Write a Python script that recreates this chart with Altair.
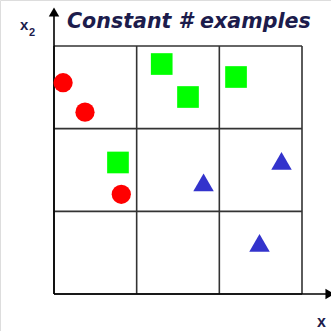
import altair as alt
import pandas as pd

# Sample points in feature space (x1, x2), each cell of the 3x3 partition
red_x = [0.11, 0.375, 0.814]
red_y = [2.556, 2.20, 1.206]
green_x = [1.303, 1.621, 2.202, 0.774]
green_y = [2.782, 2.383, 2.625, 1.591]
blue_x = [1.809, 2.752, 2.486]
blue_y = [1.349, 1.609, 0.617]

# Partition boundaries along each axis
cuts = [0, 1, 2, 3]

X_DOM = [-0.6532, 3.3508]
Y_DOM = [-0.4476, 3.5565]

xs = alt.Scale(domain=X_DOM, nice=False, zero=False)
ys = alt.Scale(domain=Y_DOM, nice=False, zero=False)

red = pd.DataFrame({"x1": red_x, "x2": red_y})
green = pd.DataFrame({"x1": green_x, "x2": green_y})
blue = pd.DataFrame({"x1": blue_x, "x2": blue_y})
grid = pd.DataFrame({"c": cuts, "lo": 0, "hi": 3})

vlines = alt.Chart(grid).mark_rule(color="#333333", strokeWidth=1.6).encode(
    x=alt.X("c:Q", scale=xs, axis=None),
    y=alt.Y("lo:Q", scale=ys, axis=None),
    y2="hi:Q",
)
hlines = alt.Chart(grid).mark_rule(color="#333333", strokeWidth=1.6).encode(
    y=alt.Y("c:Q", scale=ys, axis=None),
    x=alt.X("lo:Q", scale=xs, axis=None),
    x2="hi:Q",
)

# Coordinate axes with arrow heads
axes_df = pd.DataFrame({"o": [0]})
yaxis = alt.Chart(axes_df).mark_rule(color="black", strokeWidth=1.6).encode(
    x=alt.X("o:Q", scale=xs, axis=None),
    y=alt.Y("o:Q", scale=ys, axis=None),
    y2=alt.value(14),
)
xaxis = alt.Chart(axes_df).mark_rule(color="black", strokeWidth=1.6).encode(
    y=alt.Y("o:Q", scale=ys, axis=None),
    x=alt.X("o:Q", scale=xs, axis=None),
    x2=alt.value(326),
)
yhead = alt.Chart(axes_df).mark_point(
    shape="triangle-up", filled=True, color="black", size=110, opacity=1
).encode(x=alt.X("o:Q", scale=xs, axis=None), y=alt.value(12))
xhead = alt.Chart(axes_df).mark_point(
    shape="triangle-right", filled=True, color="black", size=110, opacity=1
).encode(y=alt.Y("o:Q", scale=ys, axis=None), x=alt.value(330))

reds = alt.Chart(red).mark_point(
    shape="circle", filled=True, color="#ff0000", size=370, opacity=1
).encode(x=alt.X("x1:Q", scale=xs, axis=None), y=alt.Y("x2:Q", scale=ys, axis=None))
greens = alt.Chart(green).mark_point(
    shape="square", filled=True, color="#00ff00", size=470, opacity=1
).encode(x=alt.X("x1:Q", scale=xs, axis=None), y=alt.Y("x2:Q", scale=ys, axis=None))
blues = alt.Chart(blue).mark_point(
    shape="triangle-up", filled=True, color="#3333cc", size=420, opacity=1
).encode(x=alt.X("x1:Q", scale=xs, axis=None), y=alt.Y("x2:Q", scale=ys, axis=None))

INK = "#1c1c4c"
title = alt.Chart(axes_df).mark_text(
    text="Constant # examples", font="DejaVu Sans", fontSize=20.6,
    fontWeight="bold", fontStyle="italic", color=INK, align="left", baseline="alphabetic",
).encode(x=alt.value(67), y=alt.value(28))

x2_main = alt.Chart(axes_df).mark_text(
    text="x", font="Liberation Sans", fontSize=15, fontWeight="bold",
    color=INK, align="left", baseline="alphabetic",
).encode(x=alt.value(20), y=alt.value(30))
x2_sub = alt.Chart(axes_df).mark_text(
    text="2", font="Liberation Sans", fontSize=11, fontWeight="bold",
    color=INK, align="left", baseline="alphabetic",
).encode(x=alt.value(29), y=alt.value(36))
x1_main = alt.Chart(axes_df).mark_text(
    text="x", font="Liberation Sans", fontSize=16, fontWeight="bold",
    color=INK, align="left", baseline="alphabetic",
).encode(x=alt.value(317), y=alt.value(327))

chart = alt.layer(
    vlines, hlines, yaxis, xaxis, yhead, xhead, reds, greens, blues,
    title, x2_main, x2_sub, x1_main,
).properties(
    width=331, height=331, padding=0,
    autosize=alt.AutoSizeParams(type="none"),
).configure_view(stroke=None).configure(background="white")

chart.save("out.html", embed_options={"renderer": "svg", "actions": False})
